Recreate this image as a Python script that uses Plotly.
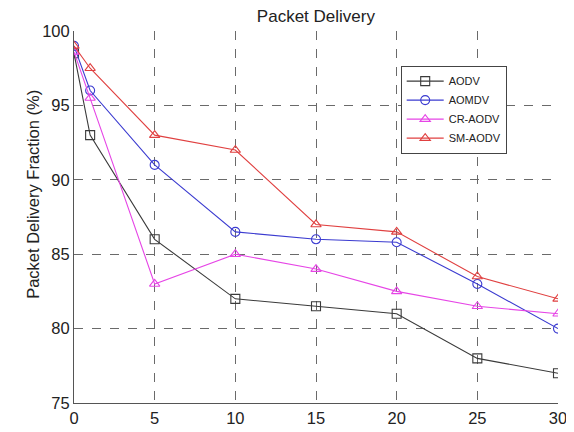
import plotly.graph_objects as go

x_vals = [0, 1, 5, 10, 15, 20, 25, 30]
aodv = [98.5, 93, 86, 82, 81.5, 81, 78, 77]
aomdv = [99, 96, 91, 86.5, 86, 85.8, 83, 80]
cr_aodv = [98.6, 95.5, 83, 85, 84, 82.5, 81.5, 81]
sm_aodv = [99, 97.5, 93, 92, 87, 86.5, 83.5, 82]
x_ticks = [0, 5, 10, 15, 20, 25, 30]
y_ticks = [75, 80, 85, 90, 95, 100]

series = [
    ("AODV", aodv, "#3a3a3a", "square-open"),
    ("AOMDV", aomdv, "#3b3bd0", "circle-open"),
    ("CR-AODV", cr_aodv, "#e645e6", "triangle-up-open"),
    ("SM-AODV", sm_aodv, "#e04040", "triangle-up-open"),
]

fig = go.Figure()
for name, ys, color, sym in series:
    fig.add_trace(go.Scatter(
        x=x_vals, y=ys, name=name, mode="lines+markers",
        line=dict(color=color, width=1.1),
        marker=dict(symbol=sym, size=9, color=color, line=dict(width=1.1, color=color)),
    ))

fig.update_layout(
    width=566, height=424,
    margin=dict(l=66, r=15.5, t=22.5, b=29, autoexpand=False),
    paper_bgcolor="white", plot_bgcolor="white",
    font=dict(family="Liberation Sans, Arial, sans-serif", color="#222", size=16),
    title=dict(text="Packet Delivery", x=0.544, xref="container", xanchor="center",
               y=0.981, yref="container", yanchor="middle",
               font=dict(size=17, color="#222")),
    showlegend=True,
    legend=dict(x=0.675, y=0.907, xanchor="left", yanchor="top",
                bordercolor="#444", borderwidth=1, bgcolor="white",
                itemwidth=37,
                font=dict(size=11, color="#222"), tracegroupgap=0),
    annotations=[dict(text="Packet Delivery Fraction (%)", textangle=-90,
                      xref="paper", yref="paper", x=-0.0836, y=0.561,
                      xanchor="center", yanchor="middle", showarrow=False,
                      font=dict(size=16.5, color="#222"))],
)
fig.update_xaxes(range=[0, 30], tickvals=x_ticks, automargin=False,
                 showline=True, linecolor="#555", linewidth=1,
                 showgrid=True, gridcolor="#6a6a6a", griddash="dash", gridwidth=1,
                 ticks="", zeroline=False, tickfont=dict(size=16.5))
fig.update_yaxes(range=[75, 100], tickvals=y_ticks, automargin=False,
                 showline=True, linecolor="#555", linewidth=1,
                 showgrid=True, gridcolor="#6a6a6a", griddash="dash", gridwidth=1,
                 ticks="", zeroline=False, tickfont=dict(size=16.5))

fig.write_html("out.html")
